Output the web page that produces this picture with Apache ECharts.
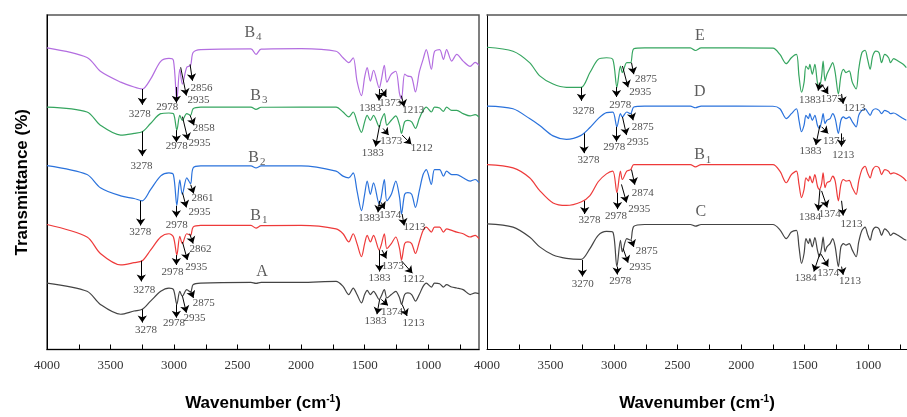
<!DOCTYPE html>
<html>
<head>
<meta charset="utf-8">
<script src="https://cdn.jsdelivr.net/npm/echarts@6/dist/echarts.min.js"></script>
<style>
  html, body { margin: 0; padding: 0; background: #fff; }
  #chart { width: 907px; height: 417px; }
</style>
</head>
<body>
<div id="chart"></div>
<script>
// left panel: wavenumber samples (cm-1) and offset transmittance of each spectrum
const wnLeft = [4000, 3685, 3580, 3420, 3315, 3250, 3185, 3105, 3040, 3005, 2978, 2955, 2935, 2900, 2870, 2850, 2790, 2395, 2355, 2315, 2000, 1725, 1670, 1625, 1590, 1560, 1525, 1500, 1480, 1455, 1430, 1385, 1370, 1345, 1325, 1290, 1255, 1225, 1210, 1185, 1160, 1130, 1100, 1070, 1040, 1015, 975, 950, 910, 880, 855, 815, 775, 725, 670, 630, 600];
const B4 = [305.7, 296, 282, 271, 266, 264, 274, 292, 295, 293, 252.3, 284, 269, 286, 288, 301, 304, 304.7, 299, 304.5, 305, 302.3, 295.7, 290.7, 295.7, 272, 257.3, 276, 285.7, 272, 283, 265, 272.3, 288, 271, 279, 282, 259, 254, 279, 277, 276, 261, 281, 294, 304, 284, 302, 304, 294, 304, 292.3, 299, 292.3, 287, 291, 288];
const B3 = [245.7, 240.7, 227.3, 217.3, 219, 220.7, 229, 239, 239.7, 239, 222.3, 237.3, 232.3, 239, 237.3, 244, 245.7, 245.7, 243.3, 245.5, 245.7, 245.7, 240.7, 235.7, 240.7, 230.7, 220, 230.7, 237.3, 232.3, 237.3, 225.7, 232.3, 239, 227.3, 232.3, 236.7, 227.3, 219, 230.7, 232.3, 230.7, 224, 234, 242.3, 245.7, 240.7, 245.7, 244.7, 241.3, 245.7, 242.3, 242.3, 239, 236.7, 238, 235.7];
const B2 = [186.3, 177.3, 164, 155.7, 153, 150.7, 162, 176, 179, 177, 146, 172, 157.3, 174, 168, 184, 186, 186, 184, 186, 186, 180.7, 175.7, 174, 179, 160.7, 140.7, 157.3, 170.7, 157.3, 169, 147.3, 154, 172.3, 150.7, 157.3, 170.7, 154, 137.3, 157.3, 159, 157.3, 144, 160.7, 177.3, 182.3, 167.3, 182.3, 182.3, 175.7, 180.7, 177.3, 177.3, 174, 170.7, 172.3, 169];
const B1left = [126.7, 114, 97.3, 85.7, 88, 90, 100.7, 114, 117.3, 114, 95.7, 114.7, 107.3, 117.3, 115.7, 124, 125.7, 125.7, 123, 125.5, 125.7, 122.3, 117.3, 109, 117.3, 107.3, 94, 107.3, 115.7, 109, 115.7, 100.7, 105.7, 117.3, 102.3, 107.3, 114, 102.3, 90.7, 107.3, 109, 107.3, 97.3, 109, 120.7, 124, 119, 124, 124, 119, 122.3, 120.7, 119, 117.3, 114, 115.7, 112.3];
const A = [67.3, 59, 45.7, 35.7, 39, 40.7, 49, 59, 62.3, 60.7, 45.7, 59, 54, 60.7, 58, 65.7, 67.3, 68, 67, 68, 68, 69, 64, 55.7, 62.3, 55.7, 47.3, 55.7, 60, 55.7, 59, 50.7, 54, 60.7, 52.3, 55.7, 59, 52.3, 45.7, 55.7, 57.3, 55.7, 49, 55.7, 64, 67.3, 63.3, 67.3, 66.7, 63.3, 65.7, 63.3, 62.3, 60.7, 55.7, 57.3, 56.7];

// right panel
const wnRight = [4000, 3795, 3665, 3585, 3480, 3375, 3260, 3190, 3125, 3060, 3010, 2978, 2950, 2935, 2900, 2870, 2845, 2760, 2400, 2360, 2315, 1750, 1695, 1645, 1605, 1565, 1545, 1525, 1505, 1490, 1470, 1460, 1440, 1420, 1400, 1385, 1368, 1355, 1340, 1325, 1300, 1280, 1260, 1235, 1215, 1195, 1175, 1150, 1125, 1095, 1075, 1050, 1025, 1005, 985, 965, 940, 915, 895, 870, 840, 825, 800, 765, 725, 700];
const E = [306.3, 302.3, 290.7, 277.3, 269, 265.7, 265.7, 280.7, 294, 295.7, 294, 265.7, 287.3, 280.7, 290.7, 290.7, 304.7, 305.7, 305.7, 303, 305.7, 305.5, 299, 289.7, 295.7, 299, 277.3, 260.7, 270.7, 287.3, 284, 289, 279, 289, 270.7, 265.7, 275.7, 292.3, 272.3, 279, 285.7, 290.7, 280.7, 259, 277.3, 284, 280.7, 282.3, 270.7, 264, 284, 300.7, 303.3, 294, 284, 297.3, 302.3, 300.7, 290.7, 299, 295.7, 290.7, 294.7, 292.3, 289, 285.7];
const D = [246.7, 244, 234, 227, 216.5, 213, 217, 225, 234, 240, 240.5, 225.7, 239, 235.7, 240.7, 239, 245.7, 246.7, 246.7, 245, 246.7, 246.5, 244, 234, 239, 244, 232.3, 220.7, 227.3, 237.3, 234, 239, 232.3, 237.3, 227.3, 224, 230.7, 239, 229, 232.3, 234, 239, 234, 219, 232.3, 235.7, 234, 235.7, 230.7, 225.7, 237.3, 242.3, 244, 240.7, 237.3, 242.3, 244, 242.3, 239, 242.3, 240.7, 239, 239.7, 237.3, 234, 232.3];
const B1right = [187.3, 184, 174, 161, 148.5, 146, 149.5, 156, 170, 178, 180.7, 159, 180.7, 172.3, 180.7, 182.3, 187.3, 187.3, 187.3, 185, 187.3, 187.3, 180.7, 169, 177.3, 180.7, 167.3, 154, 162.3, 174, 170.7, 175.7, 169, 177.3, 165.7, 162.3, 167.3, 179, 164, 169, 170.7, 175.7, 170.7, 150.7, 167.3, 172.3, 170.7, 171.3, 164, 157.3, 170.7, 182.3, 185.7, 179, 174, 182.3, 185.7, 184, 177.3, 182.3, 180.7, 178, 179, 177.3, 174, 170.7];
const C = [127.3, 124, 114, 104, 95.7, 92.3, 91.3, 102.3, 115.7, 119.7, 119, 84, 110.7, 99, 112.3, 110.7, 124.7, 126.7, 126.7, 125, 126.7, 126.7, 121.3, 112.3, 119, 120.7, 104, 87.3, 97.3, 112.3, 107.3, 112.3, 104, 113.3, 100.7, 94, 102.3, 114, 99, 104, 107.3, 112.3, 104, 84, 104, 107.3, 105.7, 107.3, 100.7, 94, 109, 120.7, 124, 116.7, 110.7, 120.7, 124, 122.3, 115.7, 122.3, 119, 115.7, 118, 115.7, 112.3, 110.7];

// sample names: [letter, subscript, wavenumber, value]
const tagsLeft = [['B', '4', 2379, 321], ['B', '3', 2332, 257], ['B', '2', 2348, 194], ['B', '1', 2332, 136], ['A', '', 2308, 79]];
const tagsRight = [['E', '', 2325, 318], ['D', '', 2325, 261], ['B', '1', 2302, 197], ['C', '', 2317, 140]];

// peak marks: [text, arrow tail w, t, arrow head w, t, label w, t]
const peaksLeft = [
  ['3278', 3250, 264, 3250, 248, 3271, 239], ['2978', 2982, 266, 2982, 250, 3054, 246],
  ['2935', 2948, 286, 2903, 257.3, 2808, 252.3], ['2856', 2874, 289, 2855, 272.3, 2784, 265],
  ['1383', 1382, 264, 1387, 252.3, 1455, 244.7], ['1373', 1369, 264, 1329, 256, 1298, 249.7],
  ['1213', 1211, 257.3, 1189, 246, 1118, 243],
  ['3278', 3250, 221, 3250, 196, 3256, 185.7], ['2978', 2982, 222.3, 2982, 210, 2979, 205.7],
  ['2935', 2934, 236, 2890, 212.3, 2800, 209], ['2858', 2874, 237.3, 2843, 227.3, 2766, 224],
  ['1383', 1382, 227.3, 1414, 205.7, 1437, 199], ['1373', 1355, 224, 1311, 217.3, 1290, 210.7],
  ['1212', 1205, 217.3, 1132, 208, 1050, 204],
  ['3278', 3263, 150.7, 3263, 125.7, 3266, 119], ['2978', 2982, 145.7, 2982, 134, 2979, 125.7],
  ['2935', 2934, 159, 2903, 144, 2800, 139], ['2861', 2869, 167, 2845, 158, 2776, 153],
  ['1383', 1382, 150.7, 1395, 139, 1463, 133.3], ['1374', 1369, 149, 1343, 142.3, 1298, 135.7],
  ['1213', 1205, 137.3, 1189, 125.7, 1108, 124],
  ['3278', 3258, 90, 3258, 69, 3234, 60], ['2978', 2982, 95.7, 2982, 85.7, 3013, 78],
  ['2935', 2934, 109, 2895, 90.7, 2825, 84], ['2862', 2877, 117.3, 2850, 107.3, 2792, 101.3],
  ['1383', 1382, 100.7, 1382, 79, 1384, 72.3], ['1373', 1363, 100.7, 1329, 92.3, 1279, 85],
  ['1212', 1211, 90, 1124, 77.3, 1116, 71.3],
  ['3278', 3250, 40.7, 3250, 27.3, 3220, 20], ['2978', 2982, 45.7, 2982, 32.3, 3000, 26.7],
  ['2935', 2934, 54, 2903, 37.3, 2839, 31.7], ['2875', 2869, 59, 2847, 52.3, 2766, 47.3],
  ['1383', 1382, 50.7, 1403, 35.7, 1414, 29], ['1374', 1369, 50.7, 1316, 44.7, 1284, 38.3],
  ['1213', 1205, 45.7, 1166, 34, 1116, 26.7]
];
const peaksRight = [
  ['3278', 3257, 265.7, 3257, 252, 3241, 241.7], ['2978', 2981, 266, 2981, 256, 2951, 247.3],
  ['2935', 2934, 287.3, 2890, 265.7, 2794, 260.7], ['2875', 2863, 290.7, 2845, 279, 2748, 274],
  ['1383', 1380, 270.7, 1394, 262.3, 1459, 252.3], ['1373', 1367, 269, 1315, 259, 1288, 254],
  ['1213', 1210, 259, 1197, 249, 1109, 244.7],
  ['3278', 3236, 219, 3236, 199, 3202, 191.7], ['2978', 2981, 225.7, 2981, 210.7, 2998, 205],
  ['2935', 2934, 235.7, 2902, 217.3, 2813, 210], ['2875', 2863, 239, 2850, 232.3, 2774, 225.7],
  ['1383', 1380, 227.3, 1412, 207.3, 1454, 200.7], ['1374', 1367, 225.7, 1315, 219, 1270, 211.7],
  ['1213', 1210, 219, 1210, 205.7, 1197, 197.3],
  ['3278', 3231, 150.7, 3231, 137.3, 3194, 130.7], ['2978', 2973, 159, 2973, 142.3, 2984, 134.7],
  ['2935', 2942, 167.3, 2902, 149, 2802, 142.3], ['2874', 2863, 182.3, 2837, 167, 2774, 159],
  ['1384', 1380, 162.3, 1394, 140.7, 1459, 134], ['1374', 1367, 160.7, 1323, 144, 1302, 137.3],
  ['1213', 1210, 150.7, 1197, 135.7, 1131, 126.7],
  ['3270', 3249, 90.7, 3249, 74, 3246, 66.7], ['2978', 2976, 84, 2976, 76, 2951, 69.7],
  ['2935', 2929, 102.3, 2890, 88, 2794, 83], ['2875', 2863, 110.7, 2845, 104, 2743, 100],
  ['1384', 1380, 97.3, 1428, 79, 1491, 72.3], ['1374', 1372, 96.7, 1315, 84, 1315, 77.3],
  ['1213', 1210, 84, 1197, 75.7, 1144, 69]
];

const tickVals = [4000, 3750, 3500, 3250, 3000, 2750, 2500, 2250, 2000, 1750, 1500, 1250, 1000, 750];
const labelVals = [4000, 3500, 3000, 2500, 2000, 1500, 1000];

const serif = '"Liberation Serif", "Times New Roman", serif';
const sans = '"Liberation Sans", Arial, sans-serif';

function curve(idx, wn, vals, color) {
  return {
    type: 'line', xAxisIndex: idx, yAxisIndex: idx,
    data: wn.map((w, i) => [w, vals[i]]),
    showSymbol: false, smooth: 0.3, silent: true,
    lineStyle: { color: color, width: 1.2 }
  };
}

function arrows(idx, peaks) {
  return {
    type: 'lines', coordinateSystem: 'cartesian2d', xAxisIndex: idx, yAxisIndex: idx,
    symbol: ['none', 'arrow'], symbolSize: [0, 7], silent: true, z: 5,
    lineStyle: { color: '#000', width: 1, opacity: 1 },
    data: peaks.map(p => ({ coords: [[p[1], p[2]], [p[3], p[4]]] }))
  };
}

function peakLabels(idx, peaks) {
  return {
    type: 'scatter', xAxisIndex: idx, yAxisIndex: idx, symbolSize: 1, silent: true, z: 6,
    itemStyle: { color: 'rgba(0,0,0,0)' },
    data: peaks.map(p => ({ name: p[0], value: [p[5], p[6]] })),
    label: { show: true, position: 'inside', formatter: '{b}', color: '#222', fontSize: 11, fontFamily: serif }
  };
}

function tagLabels(idx, tags) {
  return {
    type: 'scatter', xAxisIndex: idx, yAxisIndex: idx, symbolSize: 1, silent: true, z: 6,
    itemStyle: { color: 'rgba(0,0,0,0)' },
    data: tags.map(t => ({ name: t[1] ? t[0] + '{s|' + t[1] + '}' : t[0], value: [t[2], t[3]] })),
    label: {
      show: true, position: 'inside', formatter: '{b}', color: '#333', fontSize: 16, fontFamily: serif,
      rich: { s: { fontSize: 11, fontFamily: serif, color: '#333', verticalAlign: 'bottom', padding: [9, 0, 0, 1] } }
    }
  };
}

function xAxis(idx, min) {
  return {
    type: 'value', gridIndex: idx, min: min, max: 4000, inverse: true,
    axisLine: { show: true, lineStyle: { color: '#000', width: 1 } },
    axisTick: { show: true, inside: true, length: 5, customValues: tickVals, lineStyle: { color: '#000' } },
    axisLabel: { customValues: labelVals, formatter: v => String(v), color: '#333', fontSize: 13, fontFamily: serif, margin: 10 },
    splitLine: { show: false },
    name: 'Wavenumber (cm{sup|-1})', nameLocation: 'middle', nameGap: 45,
    nameTextStyle: {
      fontFamily: sans, fontWeight: 'bold', fontSize: 17, color: '#000',
      rich: { sup: { fontFamily: sans, fontWeight: 'bold', fontSize: 10, color: '#000', verticalAlign: 'top', padding: [0, 0, 8, 0] } }
    }
  };
}

// plain frame line on top of the right panel (its right side is cut off)
function topFrame(idx, min) {
  return {
    type: 'value', gridIndex: idx, position: 'top', min: min, max: 4000, inverse: true,
    axisLine: { show: true, lineStyle: { color: '#555', width: 1.5 } },
    axisTick: { show: false }, axisLabel: { show: false }, splitLine: { show: false }
  };
}

function yAxis(idx, name) {
  return {
    type: 'value', gridIndex: idx, min: 0, max: 339,
    axisLine: { show: true, lineStyle: { color: '#000', width: 1 } },
    axisTick: { show: false }, axisLabel: { show: false }, splitLine: { show: false },
    name: name, nameLocation: 'middle', nameGap: 16,
    nameTextStyle: { fontFamily: sans, fontWeight: 'bold', fontSize: 17, color: '#000' }
  };
}

const chart = echarts.init(document.getElementById('chart'));
chart.setOption({
  animation: false,
  backgroundColor: '#fff',
  grid: [
    { left: 47, top: 15, width: 432, height: 339, show: true, borderColor: '#555', borderWidth: 1.5 },
    { left: 487, top: 15, right: 0, height: 339 }
  ],
  xAxis: [xAxis(0, 600), xAxis(1, 695), topFrame(1, 695)],
  yAxis: [yAxis(0, 'Transmittance (%)'), yAxis(1, '')],
  series: [
    curve(0, wnLeft, B4, '#b36ee0'),
    curve(0, wnLeft, B3, '#35a55f'),
    curve(0, wnLeft, B2, '#2a72dc'),
    curve(0, wnLeft, B1left, '#ee3a3a'),
    curve(0, wnLeft, A, '#444'),
    curve(1, wnRight, E, '#35a55f'),
    curve(1, wnRight, D, '#2a72dc'),
    curve(1, wnRight, B1right, '#ee3a3a'),
    curve(1, wnRight, C, '#444'),
    arrows(0, peaksLeft), arrows(1, peaksRight),
    peakLabels(0, peaksLeft), peakLabels(1, peaksRight),
    tagLabels(0, tagsLeft), tagLabels(1, tagsRight)
  ]
});
</script>
</body>
</html>
